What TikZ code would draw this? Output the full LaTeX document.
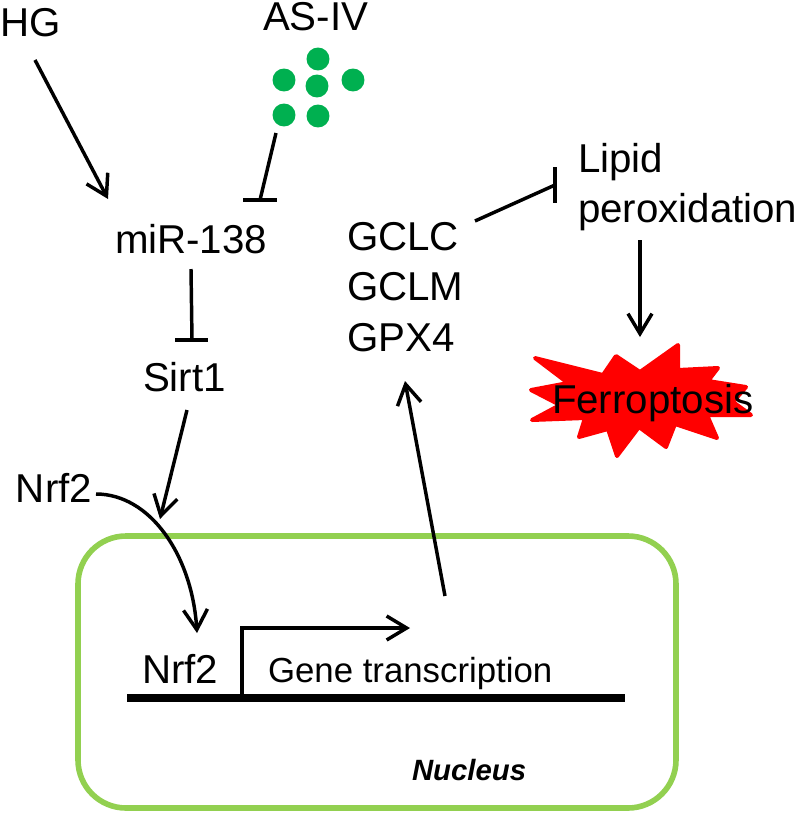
\documentclass[tikz,border=0pt]{standalone}
\usepackage{fontspec}
\setmainfont{Liberation Sans}
\usetikzlibrary{arrows.meta}
\definecolor{nucleusgreen}{HTML}{92D050}
\definecolor{dotgreen}{HTML}{00B050}
\tikzset{
  x=0.75pt,y=-0.75pt,
  lbl/.style={anchor=base west,inner sep=0pt,outer sep=0pt,font=\fontsize{30.2}{36}\selectfont},
  genelbl/.style={lbl,font=\fontsize{26.1}{31}\selectfont},
  nuclbl/.style={lbl,font=\fontsize{22}{26}\selectfont\bfseries\itshape},
  conn/.style={line width=2.6pt},
  activate/.style={conn,-{Straight Barb[length=15pt,width=18pt,line width=2.6pt]}},
  inhibit/.style={conn},
  dot/.style={circle,fill=dotgreen,inner sep=0pt,minimum size=17.2pt},
}
\begin{document}
\begin{tikzpicture}
\useasboundingbox (0,0) rectangle (800,815);

% nucleus compartment
\draw[nucleusgreen,line width=4.2pt,rounded corners=36pt] (78,536) rectangle (676,808);

% ferroptosis burst
\draw[red,fill=red,line width=3pt,line join=round]
  (535,358) -- (603,375) -- (616,356) -- (640,372) -- (678,345) -- (678,370)
  -- (718,368) -- (708,381) -- (746,387) -- (733,402) -- (751,415) -- (707,415)
  -- (717,438) -- (675,424) -- (666,447) -- (639,427) -- (617,456) -- (608,429)
  -- (579,437) -- (585,418) -- (532,420) -- (560,405) -- (531,390) -- (568,383) -- cycle;

% labels
\node[lbl] (hg) at (0,36) {HG};
\node[lbl] (asiv) at (263,30) {AS-IV};
\node[lbl] (mir) at (115,253) {miR-138};
\node[lbl] (sirt) at (143,391) {Sirt1};
\node[lbl] (nrfout) at (16,502) {Nrf2};
\node[lbl] (nrfin) at (142,683) {Nrf2};
\node[lbl] (gclc) at (347,250) {GCLC};
\node[lbl] (gclm) at (347,300) {GCLM};
\node[lbl] (gpx) at (347,351) {GPX4};
\node[lbl] (lipid) at (578,172) {Lipid};
\node[lbl] (perox) at (578,222) {peroxidation};
\node[lbl] (ferro) at (552,413) {Ferroptosis};
\node[genelbl] (gene) at (268,682) {Gene transcription};
\node[nuclbl] (nuc) at (412,780) {Nucleus};

% AS-IV molecules
\node[dot] (d1) at (318,59) {};
\node[dot] (d2) at (284,80) {};
\node[dot] (d3) at (317,86) {};
\node[dot] (d4) at (353,80) {};
\node[dot] (d5) at (284,115) {};
\node[dot] (d6) at (318,116) {};

% connector end points
\coordinate (hgS) at (35,60);
\coordinate (hgE) at (108,199);
\coordinate (asS) at (276,133);
\coordinate (asE) at (260,200);
\coordinate (asBarL) at (243,200);
\coordinate (asBarR) at (277,200);
\coordinate (mirS) at (191,269);
\coordinate (mirE) at (192,340);
\coordinate (mirBarL) at (175,340);
\coordinate (mirBarR) at (208,340);
\coordinate (sirS) at (187,410);
\coordinate (sirE) at (160,519);
\coordinate (nrfS) at (96,494);
\coordinate (nrfE) at (197,633);
\coordinate (txS) at (445,596);
\coordinate (txE) at (405,381);
\coordinate (gcS) at (475,221);
\coordinate (gcE) at (555,185);
\coordinate (gcBarT) at (555,167);
\coordinate (gcBarB) at (555,203);
\coordinate (lpS) at (640,240);
\coordinate (lpE) at (640,337);
\coordinate (barL) at (127,698);
\coordinate (barR) at (625,698);
\coordinate (tssB) at (242,698);
\coordinate (tssE) at (410,628);

% DNA strand and transcription start
\draw[line width=6.4pt] (barL) -- (barR);
\draw[activate] (tssB) |- (tssE);

% pathway connectors
\draw[activate] (hgS) -- (hgE);
\draw[inhibit] (asS) -- (asE);
\draw[inhibit] (asBarL) -- (asBarR);
\draw[inhibit] (mirS) -- (mirE);
\draw[inhibit] (mirBarL) -- (mirBarR);
\draw[activate] (sirS) -- (sirE);
\draw[activate] (nrfS) .. controls (150,494) and (192,555) .. (nrfE);
\draw[activate] (txS) -- (txE);
\draw[inhibit] (gcS) -- (gcE);
\draw[inhibit] (gcBarT) -- (gcBarB);
\draw[activate] (lpS) -- (lpE);
\end{tikzpicture}
\end{document}
